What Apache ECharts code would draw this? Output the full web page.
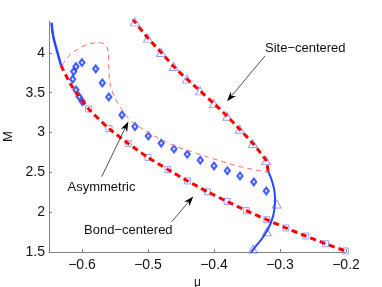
<!DOCTYPE html>
<html><head><meta charset="utf-8">
<script src="https://cdn.jsdelivr.net/npm/echarts@6/dist/echarts.min.js"></script>
<style>html,body{margin:0;padding:0;background:#fff}#c{width:382px;height:287px}</style>
</head><body><div id="c"></div>
<script>
const xTicks = [-0.6, -0.5, -0.4, -0.3, -0.2];
const yTicks = [1.5, 2, 2.5, 3, 3.5, 4];

const siteTriMu = [-0.520,-0.500,-0.480,-0.461,-0.441,-0.421,-0.400,-0.380,-0.361,-0.341,-0.321,-0.305,-0.320,-0.341];
const siteTriM  = [4.389,4.185,4.004,3.828,3.670,3.523,3.363,3.205,3.041,2.861,2.647,2.103,1.755,1.538];

const siteLineMu = [-0.523,-0.520,-0.500,-0.480,-0.461,-0.441,-0.421,-0.400,-0.380,-0.361,-0.341,-0.321,-0.318];
const siteLineM  = [4.430,4.389,4.185,4.004,3.828,3.670,3.523,3.363,3.205,3.041,2.861,2.647,2.505];

const blueTopMu = [-0.6462,-0.6435,-0.6383,-0.6318];
const blueTopM  = [4.380,4.205,4.038,3.843];

const blueRightMu = [-0.3177,-0.3111,-0.3076,-0.3086,-0.3141,-0.3253,-0.3394,-0.3440];
const blueRightM  = [2.509,2.363,2.195,2.028,1.861,1.692,1.546,1.490];

const bondSqMu = [-0.590,-0.559,-0.530,-0.500,-0.470,-0.440,-0.410,-0.380,-0.351,-0.320,-0.291,-0.261,-0.231,-0.201];
const bondSqM  = [3.296,3.049,2.863,2.687,2.536,2.392,2.256,2.134,2.019,1.905,1.802,1.701,1.604,1.513];

const bondLineMu = [-0.6318,-0.6182,-0.6061,-0.590,-0.559,-0.530,-0.500,-0.470,-0.440,-0.410,-0.380,-0.351,-0.320,-0.291,-0.261,-0.231,-0.201];
const bondLineM  = [3.843,3.619,3.472,3.296,3.049,2.863,2.687,2.536,2.392,2.256,2.134,2.019,1.905,1.802,1.701,1.604,1.513];

const asymDiaMu = [-0.5995,-0.6045,-0.6091,-0.6141,-0.6126,-0.6091,-0.6000,-0.5792,-0.5692,-0.5595,-0.5394,-0.5197,-0.4995,-0.4800,-0.4606,-0.4405,-0.4208,-0.4000,-0.3798,-0.3606,-0.3398,-0.3208];
const asymDiaM  = [3.388,3.451,3.535,3.670,3.765,3.828,3.878,3.799,3.623,3.447,3.221,3.074,2.957,2.866,2.794,2.727,2.652,2.580,2.521,2.455,2.379,2.266];

const asymLineMu = [-0.6303,-0.6182,-0.6080,-0.5955,-0.5848,-0.5753,-0.5667,-0.5621,-0.5602,-0.5598,-0.5595,-0.5576,-0.5500,-0.5374,-0.5247,-0.5045,-0.4818,-0.4565,-0.4111,-0.3606,-0.3177];
const asymLineM  = [3.849,3.975,4.038,4.094,4.119,4.129,4.113,4.075,3.996,3.912,3.824,3.619,3.431,3.263,3.137,3.026,2.920,2.823,2.697,2.572,2.499];

// annotations (data coordinates)
const annotLabels = ['Site\u2212centered', 'Asymmetric', 'Bond\u2212centered'];
const annotTextMu = [-0.2617, -0.5705, -0.5298];
const annotTextM  = [4.059, 2.308, 1.776];
const arrowTailMu = [-0.3227, -0.5702, -0.4641];
const arrowTailM  = [3.962, 2.446, 1.881];
const arrowHeadMu = [-0.3803, -0.5298, -0.4314];
const arrowHeadM  = [3.391, 3.137, 2.197];

const zip = (a, b) => a.map((v, i) => [v, b[i]]);
const fmt = v => String(v).replace('-', '\u2212');

const chart = echarts.init(document.getElementById('c'), null, {renderer: 'canvas'});
const FONT = '"Liberation Sans", Arial, Helvetica, sans-serif';

chart.setOption({
  animation: false,
  backgroundColor: '#fff',
  grid: {left: 49, right: 36, top: 21, bottom: 35, containLabel: false, outerBoundsMode: 'none'},
  xAxis: {
    type: 'value', min: -0.65, max: -0.2,
    name: '\u03bc', nameLocation: 'middle', nameGap: 16,
    nameTextStyle: {fontFamily: FONT, fontSize: 12, color: '#222'},
    axisLine: {lineStyle: {color: '#808080', width: 1}},
    axisTick: {inside: true, length: 3, lineStyle: {color: '#808080'}, customValues: xTicks},
    axisLabel: {customValues: xTicks, formatter: fmt, fontFamily: FONT, fontSize: 14, color: '#111', margin: 6},
    splitLine: {show: false}
  },
  yAxis: {
    type: 'value', min: 1.5, max: 4.4,
    name: 'M', nameLocation: 'middle', nameGap: 24, nameRotate: 90,
    nameTextStyle: {fontFamily: FONT, fontSize: 13, color: '#111'},
    axisLine: {show: true, lineStyle: {color: '#808080', width: 1}},
    axisTick: {show: true, inside: true, length: 3, lineStyle: {color: '#808080'}, customValues: yTicks},
    axisLabel: {customValues: yTicks, formatter: fmt, fontFamily: FONT, fontSize: 14, color: '#111', margin: 4},
    splitLine: {show: false}
  },
  series: [
    {type: 'scatter', data: zip(siteTriMu, siteTriM), symbol: 'triangle', symbolSize: [9, 8],
     itemStyle: {color: 'rgba(0,0,0,0)', borderColor: '#7b86ff', borderWidth: 1}, z: 2},
    {type: 'scatter', data: zip(bondSqMu, bondSqM), symbol: 'rect', symbolSize: 6,
     itemStyle: {color: 'rgba(0,0,0,0)', borderColor: '#8088ff', borderWidth: 1}, z: 2},
    {type: 'scatter', data: zip(asymDiaMu, asymDiaM), symbol: 'diamond', symbolSize: [5, 6.5],
     itemStyle: {color: '#ffffff', borderColor: '#1a38ff', borderWidth: 2.2}, z: 3},
    {type: 'line', data: zip(asymLineMu, asymLineM), showSymbol: false, smooth: 0.3,
     lineStyle: {color: '#ff6a6a', width: 1, type: [5, 4]}, z: 4},
    {type: 'line', data: zip(siteLineMu, siteLineM), showSymbol: false, smooth: 0.2,
     lineStyle: {color: '#ff0000', width: 3, type: [6, 4]}, z: 5},
    {type: 'line', data: zip(bondLineMu, bondLineM), showSymbol: false, smooth: 0.2,
     lineStyle: {color: '#ff0000', width: 3, type: [6, 4]}, z: 5},
    {type: 'line', data: zip(blueTopMu, blueTopM), showSymbol: false, smooth: 0.4,
     lineStyle: {color: '#2a46ff', width: 2.5}, z: 6},
    {type: 'line', data: zip(blueRightMu, blueRightM), showSymbol: false, smooth: 0.4,
     lineStyle: {color: '#2a46ff', width: 2}, z: 6}
  ]
});

// annotations drawn in pixel space converted from data coordinates
const g = [];
annotLabels.forEach((t, i) => {
  const p = chart.convertToPixel({gridIndex: 0}, [annotTextMu[i], annotTextM[i]]);
  g.push({type: 'text', x: p[0], y: p[1], z: 100,
    style: {text: t, font: '13px ' + FONT, fill: '#111', align: 'center', verticalAlign: 'middle'}});
  const a = chart.convertToPixel({gridIndex: 0}, [arrowTailMu[i], arrowTailM[i]]);
  const b = chart.convertToPixel({gridIndex: 0}, [arrowHeadMu[i], arrowHeadM[i]]);
  const dx = b[0] - a[0], dy = b[1] - a[1], L = Math.hypot(dx, dy);
  const ux = dx / L, uy = dy / L, nx = -uy, ny = ux;
  const hl = 10, hw = 3.5, notch = 7;
  g.push({type: 'line', z: 100, shape: {x1: a[0], y1: a[1], x2: b[0] - ux * notch, y2: b[1] - uy * notch},
    style: {stroke: '#222', lineWidth: 0.8}});
  g.push({type: 'polygon', z: 100, shape: {points: [
    [b[0], b[1]],
    [b[0] - ux * hl + nx * hw, b[1] - uy * hl + ny * hw],
    [b[0] - ux * notch, b[1] - uy * notch],
    [b[0] - ux * hl - nx * hw, b[1] - uy * hl - ny * hw]
  ]}, style: {fill: '#000'}});
});
chart.setOption({graphic: g});
</script>
</body></html>
